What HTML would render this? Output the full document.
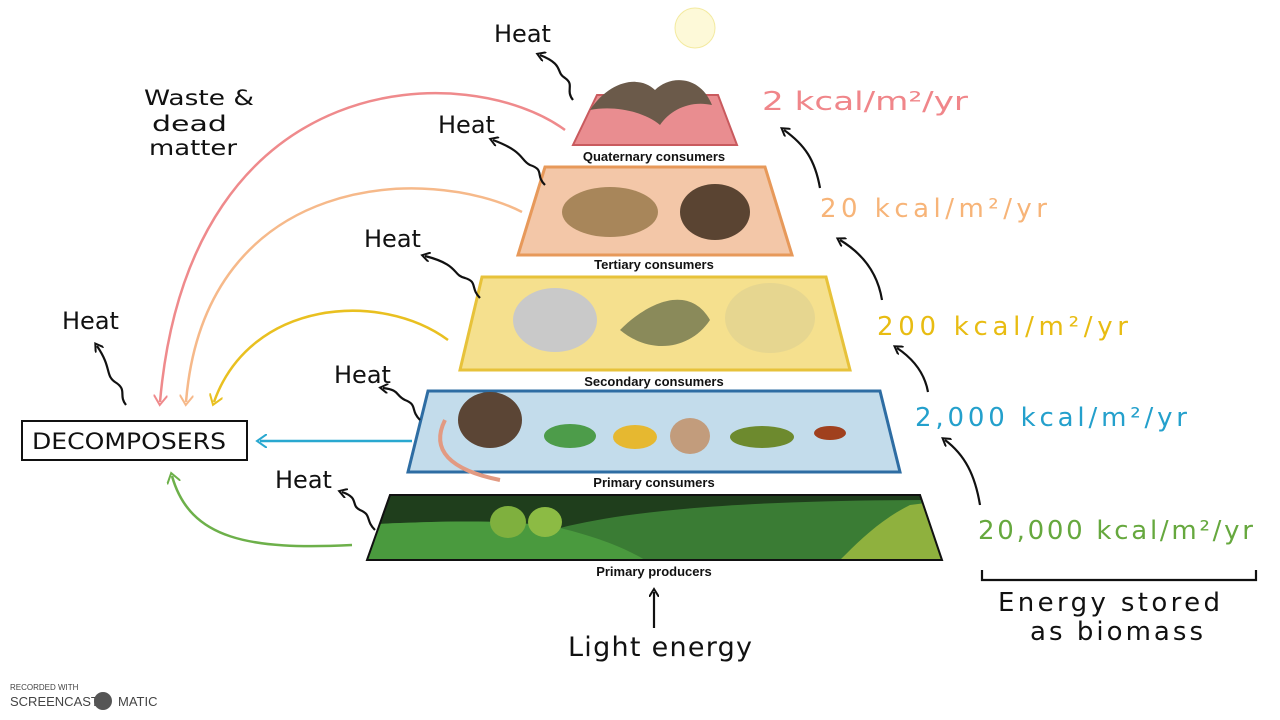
<!DOCTYPE html>
<html><head><meta charset="utf-8"><style>
html,body{margin:0;padding:0;background:#fff;width:1280px;height:720px;overflow:hidden}
svg{display:block}
.h{font-family:"DejaVu Sans","Liberation Sans",sans-serif;font-size:24px;fill:#111}
.lb{font-family:"Liberation Sans",sans-serif;font-weight:bold;font-size:13px;fill:#111;text-anchor:middle}
.k{font-family:"DejaVu Sans","Liberation Sans",sans-serif;font-size:26px}
</style></head><body>
<svg width="1280" height="720" viewBox="0 0 1280 720" xmlns="http://www.w3.org/2000/svg">
<defs>
<marker id="ak" markerWidth="10" markerHeight="10" refX="5" refY="5" orient="auto" markerUnits="userSpaceOnUse"><path d="M0,0 L8,5 L0,10" fill="none" stroke="#111" stroke-width="2"/></marker>
<marker id="ap" markerWidth="14" markerHeight="14" refX="7" refY="7" orient="auto" markerUnits="userSpaceOnUse"><path d="M0,0 L10,7 L0,14" fill="none" stroke="#ef8a8c" stroke-width="2"/></marker>
<marker id="ao" markerWidth="14" markerHeight="14" refX="7" refY="7" orient="auto" markerUnits="userSpaceOnUse"><path d="M0,0 L10,7 L0,14" fill="none" stroke="#f6b98a" stroke-width="2"/></marker>
<marker id="ay" markerWidth="14" markerHeight="14" refX="7" refY="7" orient="auto" markerUnits="userSpaceOnUse"><path d="M0,0 L10,7 L0,14" fill="none" stroke="#e9c020" stroke-width="2"/></marker>
<marker id="ab" markerWidth="14" markerHeight="14" refX="7" refY="7" orient="auto" markerUnits="userSpaceOnUse"><path d="M0,0 L10,7 L0,14" fill="none" stroke="#29a8d0" stroke-width="2"/></marker>
<marker id="ag" markerWidth="14" markerHeight="14" refX="7" refY="7" orient="auto" markerUnits="userSpaceOnUse"><path d="M0,0 L10,7 L0,14" fill="none" stroke="#6db04a" stroke-width="2"/></marker>
<clipPath id="gc"><polygon points="390,495 920,495 942,560 367,560"/></clipPath>
</defs>

<polygon points="597,95 718,95 737,145 573,145" fill="#e98d90" stroke="#c95a5e" stroke-width="2"/>
<polygon points="545,167 765,167 792,255 518,255" fill="#f3c7a8" stroke="#e7995a" stroke-width="3"/>
<polygon points="482,277 826,277 850,370 460,370" fill="#f5e08e" stroke="#e7c23a" stroke-width="3"/>
<polygon points="428,391 880,391 900,472 408,472" fill="#c3dceb" stroke="#2e6da3" stroke-width="3"/>
<g clip-path="url(#gc)">
<rect x="360" y="490" width="600" height="80" fill="#1f3e1c"/>
<path d="M360,525 C450,520 520,520 560,528 C650,505 800,500 940,500 L960,570 L360,570Z" fill="#3a7c34"/>
<path d="M360,525 C450,520 520,520 560,528 C610,540 640,555 660,570 L360,570Z" fill="#4a9a3e"/>
<path d="M840,560 C860,540 880,520 910,505 L950,500 L950,570Z" fill="#8fb13e"/>
<ellipse cx="508" cy="522" rx="18" ry="16" fill="#7fb03e"/>
<ellipse cx="545" cy="522" rx="17" ry="15" fill="#8cbb44"/>
</g>
<polygon points="390,495 920,495 942,560 367,560" fill="none" stroke="#111" stroke-width="2"/>

<path d="M590,110 C610,80 640,75 655,90 C670,75 700,75 712,105 C690,100 670,110 660,125 C645,112 615,105 590,110Z" fill="#6b5a4a"/>
<ellipse cx="610" cy="212" rx="48" ry="25" fill="#a8865a"/>
<ellipse cx="715" cy="212" rx="35" ry="28" fill="#5a4432"/>
<ellipse cx="555" cy="320" rx="42" ry="32" fill="#c9c9c9"/>
<path d="M620,330 C650,300 690,285 710,320 C690,350 650,355 620,330Z" fill="#8a8a5a"/>
<ellipse cx="770" cy="318" rx="45" ry="35" fill="#e6d690"/>
<ellipse cx="490" cy="420" rx="32" ry="28" fill="#5b4535"/>
<path d="M445,420 C430,450 450,470 500,480" stroke="#e29a82" stroke-width="4" fill="none"/>
<ellipse cx="570" cy="436" rx="26" ry="12" fill="#4d9c4a"/>
<ellipse cx="635" cy="437" rx="22" ry="12" fill="#e6b830"/>
<ellipse cx="690" cy="436" rx="20" ry="18" fill="#c29c7c"/>
<ellipse cx="762" cy="437" rx="32" ry="11" fill="#6d8a2e"/>
<ellipse cx="830" cy="433" rx="16" ry="7" fill="#a0401e"/>

<text class="lb" x="654" y="161">Quaternary consumers</text>
<text class="lb" x="654" y="269">Tertiary consumers</text>
<text class="lb" x="654" y="386">Secondary consumers</text>
<text class="lb" x="654" y="487">Primary consumers</text>
<text class="lb" x="654" y="576">Primary producers</text>

<rect x="22" y="421" width="225" height="39" fill="#fff" stroke="#111" stroke-width="2"/>
<text class="h" x="32" y="449" style="font-size:22px" textLength="194" lengthAdjust="spacingAndGlyphs">DECOMPOSERS</text>

<path d="M565,130 C470,60 190,60 160,402" stroke="#ef8a8c" stroke-width="2.5" fill="none" marker-end="url(#ap)"/>
<path d="M522,212 C430,165 205,170 186,402" stroke="#f6b98a" stroke-width="2.5" fill="none" marker-end="url(#ao)"/>
<path d="M448,340 C380,290 250,300 214,402" stroke="#e9c020" stroke-width="2.5" fill="none" marker-end="url(#ay)"/>
<path d="M412,441 L260,441" stroke="#29a8d0" stroke-width="2.5" fill="none" marker-end="url(#ab)"/>
<path d="M352,545 C250,550 190,540 172,476" stroke="#6db04a" stroke-width="2.5" fill="none" marker-end="url(#ag)"/>

<g stroke="#111" stroke-width="2.2" fill="none">
<path d="M573,100 C565,90 575,85 565,78 C555,72 565,65 540,55" marker-end="url(#ak)"/>
<path d="M545,185 C535,175 545,170 530,165 C520,160 525,152 493,140" marker-end="url(#ak)"/>
<path d="M480,298 C470,288 478,282 465,278 C452,275 460,265 425,256" marker-end="url(#ak)"/>
<path d="M420,420 C410,410 418,405 405,400 C395,395 400,390 383,388" marker-end="url(#ak)"/>
<path d="M375,530 C365,520 372,515 360,510 C350,505 360,498 342,492" marker-end="url(#ak)"/>
<path d="M126,405 C118,395 128,390 115,382 C105,375 112,368 97,346" marker-end="url(#ak)"/>
<path d="M820,188 C815,160 805,145 784,130" marker-end="url(#ak)"/>
<path d="M882,300 C878,275 865,255 840,240" marker-end="url(#ak)"/>
<path d="M928,392 C925,375 915,360 897,348" marker-end="url(#ak)"/>
<path d="M980,505 C975,475 965,455 945,440" marker-end="url(#ak)"/>
<path d="M654,628 L654,592" marker-end="url(#ak)"/>
<path d="M982,570 L982,580 L1256,580 L1256,570"/>
</g>

<text class="h" x="494" y="42">Heat</text>
<text class="h" x="438" y="133">Heat</text>
<text class="h" x="364" y="247">Heat</text>
<text class="h" x="334" y="383">Heat</text>
<text class="h" x="275" y="488">Heat</text>
<text class="h" x="62" y="329">Heat</text>
<text class="h" x="144" y="105" style="font-size:21px" textLength="110" lengthAdjust="spacingAndGlyphs">Waste &amp;</text>
<text class="h" x="152" y="131" style="font-size:21px" textLength="75" lengthAdjust="spacingAndGlyphs">dead</text>
<text class="h" x="149" y="155" style="font-size:21px" textLength="88" lengthAdjust="spacingAndGlyphs">matter</text>

<text class="k" x="762" y="110" fill="#f0868a" textLength="206" lengthAdjust="spacingAndGlyphs">2 kcal/m²/yr</text>
<text class="k" x="820" y="217" fill="#f7b478" textLength="227" lengthAdjust="spacing">20  kcal/m²/yr</text>
<text class="k" x="877" y="335" fill="#e8bc12" textLength="251" lengthAdjust="spacing">200  kcal/m²/yr</text>
<text class="k" x="915" y="426" fill="#24a0cc" textLength="272" lengthAdjust="spacing">2,000 kcal/m²/yr</text>
<text class="k" x="978" y="539" fill="#66a83e" textLength="275" lengthAdjust="spacing">20,000 kcal/m²/yr</text>
<text class="h" x="998" y="611" style="font-size:26px" textLength="222" lengthAdjust="spacing">Energy stored</text>
<text class="h" x="1030" y="640" style="font-size:26px" textLength="173" lengthAdjust="spacing">as biomass</text>
<text class="h" x="568" y="656" style="font-size:27px" textLength="184" lengthAdjust="spacing">Light energy</text>

<circle cx="695" cy="28" r="20" fill="#fdf9d8" stroke="#f3eaa0" stroke-width="1"/>
<text x="10" y="690" style="font-family:'Liberation Sans',sans-serif;font-size:8px;fill:#444">RECORDED WITH</text>
<text x="10" y="706" style="font-family:'Liberation Sans',sans-serif;font-size:13px;fill:#444">SCREENCAST</text>
<circle cx="103" cy="701" r="9" fill="#555"/>
<text x="118" y="706" style="font-family:'Liberation Sans',sans-serif;font-size:13px;fill:#444">MATIC</text>
</svg>
</body></html>
